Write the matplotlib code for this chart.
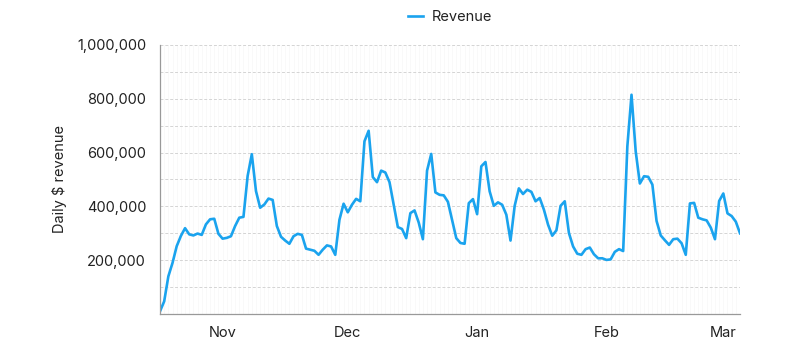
import matplotlib
matplotlib.use('Agg')
import matplotlib.pyplot as plt
import matplotlib.dates as mdates
import matplotlib.ticker as mticker
import numpy as np
import pandas as pd

plt.rcParams['font.family'] = ['Inter', 'DejaVu Sans']

# daily revenue, 2022-10-17 .. 2023-03-05
start_date = '2022-10-17'
revenue = [
    10000, 47000, 140000, 190000, 252000, 290000, 319000, 296000, 292000, 299000,
    294000, 333000, 352000, 354000, 298000, 280000, 283000, 289000, 327000, 358000,
    361000, 513000, 594000, 457000, 395000, 407000, 429000, 424000, 327000, 287000,
    273000, 261000, 289000, 298000, 294000, 243000, 239000, 235000, 220000, 239000,
    255000, 251000, 220000, 350000, 410000, 378000, 406000, 428000, 419000, 642000,
    681000, 509000, 490000, 533000, 526000, 490000, 406000, 323000, 316000, 282000,
    375000, 385000, 340000, 278000, 533000, 595000, 452000, 443000, 441000, 417000,
    350000, 282000, 264000, 261000, 412000, 427000, 371000, 549000, 565000, 456000,
    402000, 415000, 406000, 369000, 273000, 402000, 467000, 446000, 462000, 454000,
    419000, 431000, 388000, 332000, 291000, 311000, 402000, 419000, 301000, 251000,
    224000, 220000, 241000, 247000, 222000, 207000, 207000, 201000, 203000, 231000,
    241000, 234000, 623000, 815000, 605000, 485000, 512000, 510000, 481000, 346000,
    292000, 274000, 257000, 278000, 280000, 263000, 220000, 411000, 413000, 358000,
    352000, 348000, 321000, 278000, 420000, 448000, 374000, 364000, 343000, 300000,
]
dates = pd.date_range(start_date, periods=len(revenue), freq='D')
y_ticks = [200000, 400000, 600000, 800000, 1000000]

fig = plt.figure(figsize=(7.89, 3.45), dpi=100)
ax = fig.add_axes([0.2028, 0.0899, 0.7351, 0.7797])

ax.plot(dates, revenue, color='#1AA3EE', linewidth=1.9, label='Revenue',
        solid_joinstyle='round')

ax.set_xlim(dates[0], dates[-1])
ax.set_ylim(0, 1000000)

# month labels, very faint daily gridlines
ax.xaxis.set_major_locator(mdates.MonthLocator())
ax.xaxis.set_major_formatter(mdates.DateFormatter('%b'))
ax.xaxis.set_minor_locator(mdates.DayLocator())
ax.grid(which='both', axis='x', color='#f8f8f8', linewidth=0.6)

ax.set_yticks(y_ticks)
ax.yaxis.set_minor_locator(mticker.MultipleLocator(100000))
ax.yaxis.set_major_formatter(mticker.FuncFormatter(lambda v, p: f'{int(v):,}'))
ax.grid(which='both', axis='y', color='#d4d4d4', linewidth=0.7, linestyle=(0, (3, 2)))
ax.set_axisbelow(True)

ax.tick_params(which='both', length=0)
ax.tick_params(axis='y', pad=10, labelsize=10.5, colors='#222222')
ax.tick_params(axis='x', pad=9, labelsize=10.5, colors='#222222')

for side in ['top', 'right']:
    ax.spines[side].set_visible(False)
for side in ['left', 'bottom']:
    ax.spines[side].set_color('#999999')
    ax.spines[side].set_linewidth(0.9)

ax.set_ylabel('Daily $ revenue', fontsize=10.5, color='#222222', labelpad=7)

ax.legend(loc='lower center', bbox_to_anchor=(0.5, 1.03), frameon=False,
          fontsize=10.5, handlelength=1.0, handletextpad=0.6, labelcolor='#222222')

fig.savefig('out.png', dpi=100)
